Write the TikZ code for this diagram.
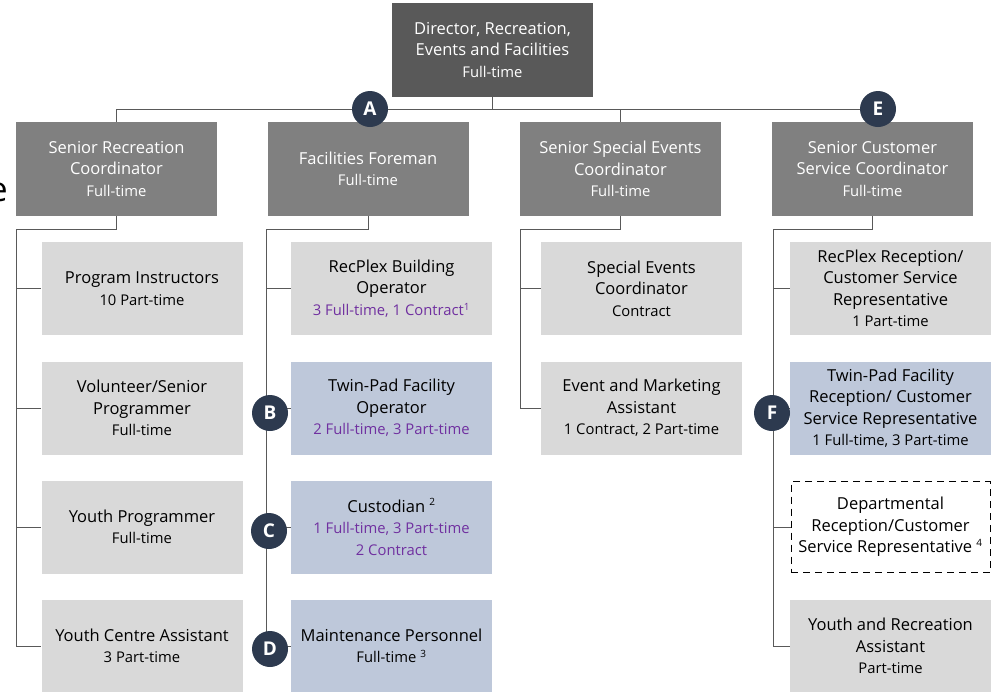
\documentclass[tikz,border=0pt]{standalone}
\usepackage{fontspec}
\setmainfont{Open Sans}
\usetikzlibrary{calc}
\definecolor{dirgray}{HTML}{595959}
\definecolor{lvgray}{HTML}{808080}
\definecolor{chgray}{HTML}{D9D9D9}
\definecolor{chblue}{HTML}{BEC8DA}
\definecolor{badgec}{HTML}{2D3A4F}
\definecolor{linec}{HTML}{595959}
\definecolor{purp}{HTML}{7030A0}
\newcommand\mainsz{\fontsize{16.5}{21.5}\selectfont}
\newcommand\subsz{\fontsize{14.8}{21.5}\selectfont}
\newcommand\supn[1]{\textsuperscript{\fontsize{10}{10}\selectfont #1}}
\tikzset{
  box/.style={minimum width=201pt, minimum height=93pt, inner sep=1pt, align=center, font=\mainsz},
  dirbox/.style={box, fill=dirgray, text=white, minimum height=94pt},
  lvbox/.style={box, fill=lvgray, text=white, minimum height=94pt},
  chbox/.style={box, fill=chgray, text=black},
  bluebox/.style={box, fill=chblue, text=black},
  dashbox/.style={box, fill=white, draw=black, dash pattern=on 7pt off 5pt, line width=1pt, minimum width=199pt, minimum height=91pt},
  conn/.style={draw=linec, line width=1pt},
  badge/.style={circle, fill=badgec, text=white, minimum size=36pt, inner sep=0pt, font=\fontsize{19}{19}\selectfont\bfseries},
}
\begin{document}
\begin{tikzpicture}[x=1pt,y=-1pt]
\useasboundingbox (0,0) rectangle (999,691);
% stray cut-off letter
\node[anchor=east, inner sep=0pt, font=\fontsize{34}{34}\selectfont] (stray) at (8,192) {e};
% director
\node[dirbox] (dir) at (492.5,50) {Director, Recreation,\\Events and Facilities\\{\subsz Full-time}};
% level 2
\node[lvbox] (s1) at (116.5,169) {Senior Recreation\\Coordinator\\{\subsz Full-time}};
\node[lvbox] (s2) at (368,169) {Facilities Foreman\\{\subsz Full-time}};
\node[lvbox] (s3) at (620.5,169) {Senior Special Events\\Coordinator\\{\subsz Full-time}};
\node[lvbox] (s4) at (872.5,169) {Senior Customer\\Service Coordinator\\{\subsz Full-time}};
% column 1
\node[chbox] (c11) at (142,288.5) {Program Instructors\\{\subsz 10 Part-time}};
\node[chbox] (c12) at (142,408) {Volunteer/Senior\\Programmer\\{\subsz Full-time}};
\node[chbox] (c13) at (142,527) {Youth Programmer\\{\subsz Full-time}};
\node[chbox] (c14) at (142,646) {Youth Centre Assistant\\{\subsz 3 Part-time}};
% column 2
\node[chbox] (c21) at (391.5,288.5) {RecPlex Building\\Operator\\{\subsz\color{purp}3 Full-time, 1 Contract\supn{1}}};
\node[bluebox] (c22) at (391.5,408) {Twin-Pad Facility\\Operator\\{\subsz\color{purp}2 Full-time, 3 Part-time}};
\node[bluebox] (c23) at (391.5,527) {Custodian \supn{2}\\{\subsz\color{purp}1 Full-time, 3 Part-time}\\{\subsz\color{purp}2 Contract}};
\node[bluebox] (c24) at (391.5,646) {Maintenance Personnel\\{\subsz Full-time \supn{3}}};
% column 3
\node[chbox] (c31) at (641.5,288.5) {Special Events\\Coordinator\\{\subsz Contract}};
\node[chbox] (c32) at (641.5,408) {Event and Marketing\\Assistant\\{\subsz 1 Contract, 2 Part-time}};
% column 4
\node[chbox] (c41) at (890.5,288.5) {RecPlex Reception/\\Customer Service\\Representative\\{\subsz 1 Part-time}};
\node[bluebox] (c42) at (890.5,408) {Twin-Pad Facility\\Reception/ Customer\\Service Representative\\{\subsz 1 Full-time, 3 Part-time}};
\node[dashbox] (c43) at (890.5,527) {Departmental\\Reception/Customer\\Service Representative \supn{4}};
\node[chbox] (c44) at (890.5,646) {Youth and Recreation\\Assistant\\{\subsz Part-time}};
% connectors top
\draw[conn] (dir.south) -- ++(0,13);
\draw[conn] (s1.north) -- ++(0,-12) -| (s4.north);
\draw[conn] (s2.north) -- ++(0,-12);
\draw[conn] (s3.north) -- ++(0,-12);
% column trunks
\draw[conn] (s1.south) -- ++(0,13) -| ([xshift=0.5pt]s1.west |- c14) -- (c14);
\draw[conn] ([xshift=0.5pt]s1.west |- c11) -- (c11);
\draw[conn] ([xshift=0.5pt]s1.west |- c12) -- (c12);
\draw[conn] ([xshift=0.5pt]s1.west |- c13) -- (c13);
\draw[conn] (s2.south) -- ++(0,13) -| ([xshift=-0.5pt]s2.west |- c24) -- (c24);
\draw[conn] ([xshift=-0.5pt]s2.west |- c21) -- (c21);
\draw[conn] ([xshift=-0.5pt]s2.west |- c22) -- (c22);
\draw[conn] ([xshift=-0.5pt]s2.west |- c23) -- (c23);
\draw[conn] (s3.south) -- ++(0,13) -| ([xshift=0.5pt]s3.west |- c32) -- (c32);
\draw[conn] ([xshift=0.5pt]s3.west |- c31) -- (c31);
\draw[conn] (s4.south) -- ++(0,13) -| ([xshift=1.5pt]s4.west |- c44) -- (c44);
\draw[conn] ([xshift=1.5pt]s4.west |- c41) -- (c41);
\draw[conn] ([xshift=1.5pt]s4.west |- c42) -- (c42);
\draw[conn] ([xshift=1.5pt]s4.west |- c43) -- (c43);
% badges
\node[badge] (bA) at (370,109) {A};
\node[badge] (bE) at (878,109) {E};
\node[badge] (bB) at (270,413) {B};
\node[badge] (bC) at (269,531) {C};
\node[badge] (bD) at (270,649) {D};
\node[badge] (bF) at (772,413) {F};
\end{tikzpicture}
\end{document}
